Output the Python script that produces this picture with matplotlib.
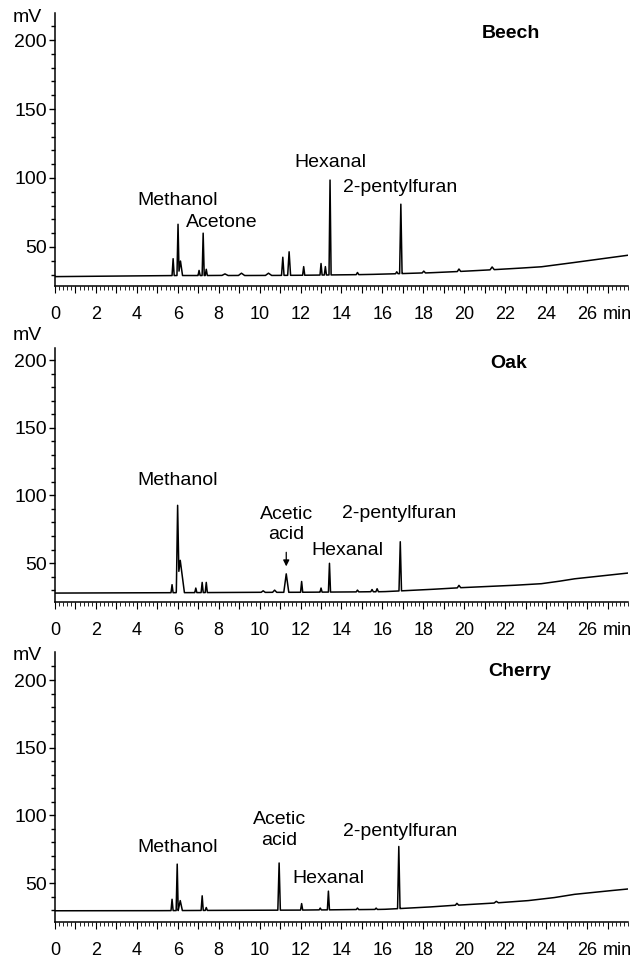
import numpy as np
import matplotlib
matplotlib.use('Agg')
import matplotlib.pyplot as plt
from matplotlib.ticker import MultipleLocator, FixedLocator

plt.rcParams['font.family'] = ['Liberation Sans', 'DejaVu Sans']
plt.rcParams['font.size'] = 14

# retention time (min), peak apex (mV), peak half width (min)
beech_rt = [5.77, 6.01, 6.13, 7.04, 7.24, 7.39, 8.3, 9.11, 10.43, 11.13, 11.44, 12.15,
            13.0, 13.21, 13.44, 14.78, 16.7, 16.9, 18.02, 19.74, 21.36]
beech_mv = [42, 68, 40, 33, 60, 34, 30.5, 31, 31, 43, 46.5, 36,
            38, 36, 98.5, 31.5, 32, 81, 32.5, 34, 35.5]
beech_hw = [0.05, 0.05, 0.1, 0.05, 0.05, 0.05, 0.15, 0.15, 0.15, 0.06, 0.07, 0.05,
            0.05, 0.05, 0.05, 0.06, 0.06, 0.06, 0.08, 0.08, 0.1]
beech_base_t = [0, 4, 6, 10, 12.15, 15.2, 18.2, 20, 21.76, 23.7, 24.6, 25.5, 26.5, 28]
beech_base_mv = [28.5, 29, 29.3, 29.3, 29.5, 30, 31.2, 32.4, 33.8, 35.5, 37.2, 39, 41, 44]

oak_rt = [5.72, 5.99, 6.12, 6.88, 7.19, 7.39, 10.17, 10.73, 11.3, 12.05, 13.0,
          13.41, 14.78, 15.49, 15.74, 16.87, 19.74]
oak_mv = [34, 86, 52, 31.5, 36, 36, 29.5, 30, 42, 36.7, 31.5,
          50.7, 30, 30.5, 31, 67, 33.5]
oak_hw = [0.05, 0.06, 0.2, 0.05, 0.05, 0.05, 0.1, 0.1, 0.12, 0.05, 0.05,
          0.05, 0.06, 0.06, 0.06, 0.06, 0.08]
oak_base_t = [0, 4, 8, 12, 16, 18, 19.84, 22, 23.7, 24.5, 25.3, 26.5, 28]
oak_base_mv = [27.8, 28, 28.2, 28.4, 28.8, 30.2, 31.8, 33.2, 34.6, 36.2, 38.2, 40.2, 42.6]

cherry_rt = [5.72, 5.97, 6.12, 7.19, 7.39, 10.95, 12.05, 12.96, 13.36, 14.78, 15.69,
             16.8, 19.64, 21.56]
cherry_mv = [38, 65.4, 37, 41, 32, 66, 35, 31.5, 44, 31.5, 31.5,
             77, 35, 36.5]
cherry_hw = [0.05, 0.05, 0.1, 0.05, 0.05, 0.06, 0.05, 0.05, 0.05, 0.06, 0.06,
             0.06, 0.08, 0.1]
cherry_base_t = [0, 4, 8, 12, 16, 18, 19.64, 21.26, 23, 24.3, 25.3, 26.5, 28]
cherry_base_mv = [29.5, 29.5, 29.8, 30, 30.5, 32, 33.6, 35, 36.8, 39, 41.5, 43.4, 45.6]

# compound labels: (text, time, mV)
beech_labels = [('Methanol', 6.01, 84), ('Acetone', 8.17, 67.4),
                ('Hexanal', 13.46, 111), ('2-pentylfuran', 16.87, 92.8)]
oak_labels = [('Methanol', 5.97, 111.3), ('Acetic\nacid', 11.3, 78.5),
              ('Hexanal', 14.27, 59.6), ('2-pentylfuran', 16.8, 87)]
cherry_labels = [('Methanol', 5.97, 75.9), ('Acetic\nacid', 10.95, 89.2),
                 ('Hexanal', 13.35, 53.7), ('2-pentylfuran', 16.87, 87.7)]

W, H = 635, 958
XMAX = 28.0


def trace(t, rt, mv, hw, base_t, base_mv):
    base = np.interp(t, base_t, base_mv)
    y = base.copy()
    for r, m, w in zip(rt, mv, hw):
        b = np.interp(r, base_t, base_mv)
        y += np.interp(t, [r - w, r, r + w], [0, max(m - b, 0), 0])
    return y


def panel(fig, top_px, bot_px, ylo, yhi, data, labels, name, name_pos, mv_px):
    ax = fig.add_axes([55 / W, 1 - bot_px / H, (628 - 55) / W, (bot_px - top_px) / H])
    t = np.arange(0, XMAX, 0.004)
    ax.plot(t, trace(t, *data), color='black', lw=1.1)
    ax.set_xlim(0, XMAX)
    ax.set_ylim(ylo, yhi)
    for s in ['top', 'right']:
        ax.spines[s].set_visible(False)
    for s in ['left', 'bottom']:
        ax.spines[s].set_linewidth(1.1)

    ax.set_yticks([50, 100, 150, 200])
    ax.yaxis.set_minor_locator(FixedLocator([30, 40, 60, 70, 80, 90, 110, 120, 130, 140,
                                             160, 170, 180, 190, 210]))
    ax.tick_params(axis='y', which='major', length=4, width=1, pad=2, labelsize=14)
    ax.tick_params(axis='y', which='minor', length=3, width=1)

    xt = list(range(0, 28))
    ax.set_xticks(xt)
    ax.set_xticklabels([str(v) if v % 2 == 0 else '' for v in xt])
    ax.xaxis.set_minor_locator(MultipleLocator(0.2))
    ax.tick_params(axis='x', which='major', length=5, width=0.8, pad=9.5, labelsize=13)
    ax.tick_params(axis='x', which='minor', length=3, width=0.6)
    ax.annotate('min', xy=(26.75, 0), xycoords=('data', 'axes fraction'),
                xytext=(0, -14.5), textcoords='offset points', ha='left', va='top',
                fontsize=13, annotation_clip=False)

    for txt, x, y in labels:
        ax.text(x, y, txt, ha='center', va='center', fontsize=14, linespacing=1.3)
    ax.text(name_pos[0], name_pos[1], name, ha='center', va='center',
            fontsize=14, fontweight='bold')
    fig.text(27 / W, 1 - mv_px / H, 'mV', ha='center', va='center', fontsize=14)
    return ax


fig = plt.figure(figsize=(W / 100, H / 100), dpi=100)

panel(fig, 13, 286, 21.7, 219.6,
      (beech_rt, beech_mv, beech_hw, beech_base_t, beech_base_mv),
      beech_labels, 'Beech', (22.27, 205), 18)
ax2 = panel(fig, 348, 602, 21.2, 209,
            (oak_rt, oak_mv, oak_hw, oak_base_t, oak_base_mv),
            oak_labels, 'Oak', (22.17, 197.8), 335)
ax2.annotate('', xy=(11.3, 45.5), xytext=(11.3, 60),
             arrowprops=dict(arrowstyle='-|>', color='black', lw=0.9, mutation_scale=9))
panel(fig, 652, 922, 21.2, 220.7,
      (cherry_rt, cherry_mv, cherry_hw, cherry_base_t, cherry_base_mv),
      cherry_labels, 'Cherry', (22.73, 206), 655)

fig.savefig('out.png', dpi=100)
